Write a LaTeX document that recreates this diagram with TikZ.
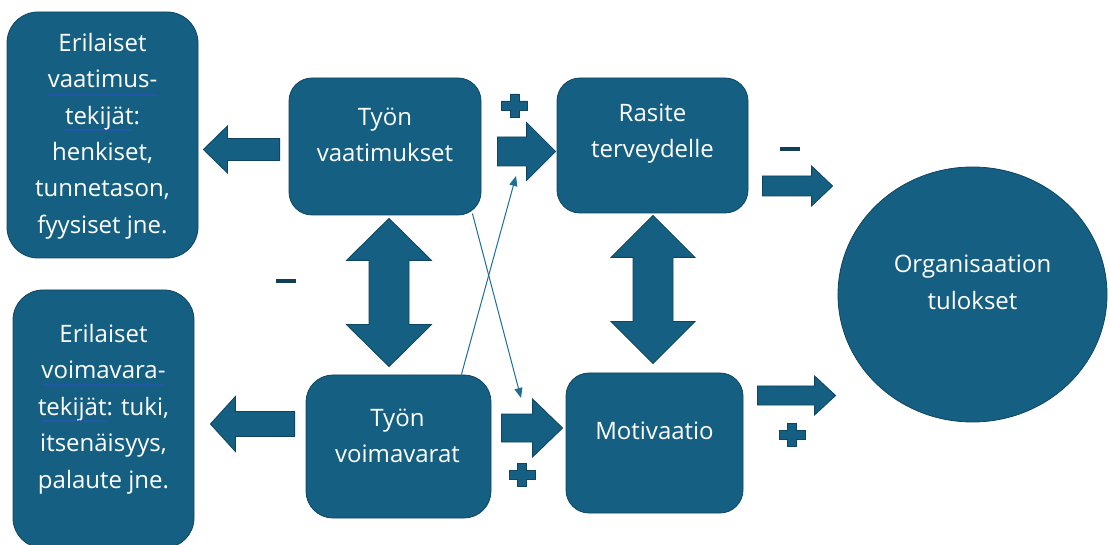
\documentclass[tikz,border=0pt]{standalone}
\usepackage{fontspec}
\setmainfont{Open Sans}
\usetikzlibrary{calc,arrows.meta,shapes.geometric,decorations.pathmorphing}

\definecolor{boxblue}{HTML}{156082}
\definecolor{edgeblue}{HTML}{0F4560}
\definecolor{linkblue}{HTML}{1E6F96}
\definecolor{signdark}{HTML}{123F55}
\definecolor{squiggle}{HTML}{3050C8}

\tikzset{
  panel/.style={draw=edgeblue, line width=0.8pt, fill=boxblue, rounded corners=#1, inner sep=0pt},
  label text/.style={text=white, font=\fontsize{24}{36.4}\selectfont, align=center, inner sep=0pt},
  solid arrow/.style={draw=edgeblue, line width=0.8pt, fill=boxblue},
  link/.style={draw=linkblue, line width=1pt, -{Triangle[length=10pt,width=8pt]}},
  sign/.style={draw=edgeblue, line width=0.6pt, fill=boxblue},
  spell/.style={draw=squiggle, line width=0.7pt, decorate,
    decoration={snake, segment length=4pt, amplitude=0.9pt}},
  plus sign/.pic={\path[sign] (-13,-4.5) -- (-4.5,-4.5) -- (-4.5,-11.5) -- (4.5,-11.5)
      -- (4.5,-4.5) -- (13,-4.5) -- (13,4.5) -- (4.5,4.5) -- (4.5,11.5) -- (-4.5,11.5)
      -- (-4.5,4.5) -- (-13,4.5) -- cycle;},
  minus sign/.pic={\fill[signdark] (-10,-2) rectangle (10,2);}
}

% block arrow: tail, tip, half shaft width, half head width, head length
\newcommand\blkarrow[5]{%
  \path[solid arrow] ($(#1)!#3!90:(#2)$) -- ($(#2)!#5!(#1)!#3!270:(#1)$)
    -- ($(#2)!#5!(#1)!#4!270:(#1)$) -- (#2) -- ($(#2)!#5!(#1)!#4!90:(#1)$)
    -- ($(#2)!#5!(#1)!#3!90:(#1)$) -- ($(#1)!#3!270:(#2)$) -- cycle;}
% two-headed block arrow: end, end, half shaft width, half head width, head length
\newcommand\dblarrow[5]{%
  \path[solid arrow] (#1) -- ($(#1)!#5!(#2)!#4!90:(#2)$) -- ($(#1)!#5!(#2)!#3!90:(#2)$)
    -- ($(#2)!#5!(#1)!#3!270:(#1)$) -- ($(#2)!#5!(#1)!#4!270:(#1)$) -- (#2)
    -- ($(#2)!#5!(#1)!#4!90:(#1)$) -- ($(#2)!#5!(#1)!#3!90:(#1)$)
    -- ($(#1)!#5!(#2)!#3!270:(#2)$) -- ($(#1)!#5!(#2)!#4!270:(#2)$) -- cycle;}

\begin{document}
\begin{tikzpicture}[x=1pt,y=-1pt]
\useasboundingbox (0,0) rectangle (1109,545);
\fill[white] (0,0) rectangle (1109,545);

% boxes
\node[panel=31pt, minimum width=191pt, minimum height=246pt] (erv) at (102.5,135) {};
\node[panel=30pt, minimum width=181pt, minimum height=258pt] (erk) at (103.5,419) {};
\node[panel=23pt, minimum width=192pt, minimum height=137pt] (vaat) at (385,146.5) {};
\node[panel=23pt, minimum width=191pt, minimum height=135pt] (ras) at (652.5,145.5) {};
\node[panel=27pt, minimum width=185pt, minimum height=143pt] (voim) at (398.5,446.5) {};
\node[panel=23pt, minimum width=177pt, minimum height=140pt] (mot) at (654.5,443) {};
\node[ellipse, draw=edgeblue, line width=0.8pt, fill=boxblue, inner sep=0pt,
      minimum width=269pt, minimum height=255pt] (org) at (972.5,294.5) {};

% texts
\node[label text] (ervtext) at (102.5,136) {Erilaiset\\vaatimus-\\tekijät:\\henkiset,\\tunnetason,\\fyysiset jne.};
\node[label text] (erktext) at (103.5,409) {Erilaiset\\voimavara-\\tekijät: tuki,\\itsenäisyys,\\palaute jne.};
\node[label text] (vaattext) at (385,135) {Työn\\vaatimukset};
\node[label text] (rastext) at (652.5,133.5) {Rasite\\terveydelle};
\node[label text] (voimtext) at (397.5,436) {Työn\\voimavarat};
\node[label text] (mottext) at (654.5,431) {Motivaatio};
\node[label text] (orgtext) at (972.5,282.5) {Organisaation\\tulokset};

% spelling marks under words
\draw[spell] (48,95) -- (158,95);
\draw[spell] (63,130) -- (132,130);
\draw[spell] (43,385) -- (163,385);
\draw[spell] (42,421) -- (107,421);

% block arrow end points
\coordinate (a1s) at ($(vaat.west)+(-9,3)$);
\coordinate (a1t) at ($(erv.east)+(5,14.5)$);
\coordinate (a2s) at ($(voim.west)+(-11,-22.5)$);
\coordinate (a2t) at ($(erk.east)+(16,5)$);
\coordinate (a3s) at ($(vaat.east)+(16,5)$);
\coordinate (a3t) at ($(ras.west)+(-1,6)$);
\coordinate (a4a) at ($(vaat.south)+(4,3)$);
\coordinate (a4b) at ($(voim.north)+(-9.5,-8)$);
\coordinate (a5a) at ($(ras.south)+(0.5,2)$);
\coordinate (a5b) at ($(mot.north)+(-1.5,-9)$);
\coordinate (a6s) at ($(voim.east)+(10,-18.5)$);
\coordinate (a6t) at ($(mot.west)+(-3,-15)$);
\coordinate (a7s) at ($(mot.east)+(14,-47.5)$);
\coordinate (a7t) at ($(org.west)+(-2,101)$);
\coordinate (a8s) at ($(ras.east)+(14,40.5)$);
\coordinate (a8t) at ($(org.west)+(-5,-108.5)$);

\blkarrow{a1s}{a1t}{11pt}{23.5pt}{24pt}
\blkarrow{a2s}{a2t}{12.5pt}{27.5pt}{25pt}
\blkarrow{a3s}{a3t}{14.5pt}{29pt}{29pt}
\dblarrow{a4a}{a4b}{20pt}{42.5pt}{42pt}
\dblarrow{a5a}{a5b}{20pt}{42pt}{42pt}
\blkarrow{a6s}{a6t}{14pt}{29pt}{30pt}
\blkarrow{a7s}{a7t}{9.5pt}{19.5pt}{21pt}
\blkarrow{a8s}{a8t}{10pt}{20pt}{21pt}

% thin cross links
\coordinate (l1t) at (516,176);
\coordinate (l2t) at (521,398);
\draw[link] ($(voim.north east)+(-30,0)$) -- (l1t);
\draw[link] ($(vaat.south east)+(-9,-2)$) -- (l2t);

% signs
\pic at (514.5,105.5) {plus sign};
\pic at (522,475) {plus sign};
\pic at (792,435) {plus sign};
\pic at (285.5,281.5) {minus sign};
\pic at (790,149.5) {minus sign};
\end{tikzpicture}
\end{document}
